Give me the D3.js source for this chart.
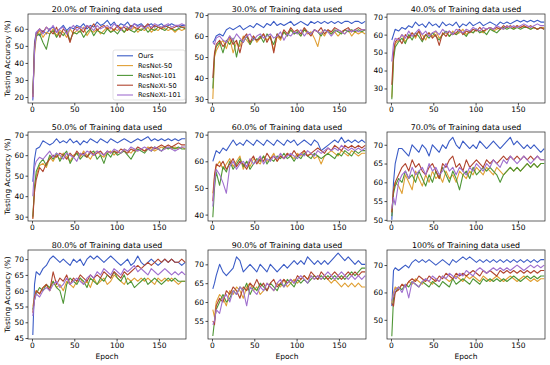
<!DOCTYPE html>
<html>
<head>
<meta charset="utf-8">
<script src="https://cdn.jsdelivr.net/npm/d3@7/dist/d3.min.js"></script>
<style>
  body { margin: 0; background: #fff; }
  text { font-family: "DejaVu Sans", sans-serif; fill: #000; }
</style>
</head>
<body>
<svg id="chart"></svg>
<script>
// epochs sampled from the curves
var epochs = [1,3,5,9,13,17,21,25,29,33,37,41,45,49,53,57,61,65,69,73,77,81,85,89,93,97,101,105,109,113,117,121,125,129,133,137,141,145,149,153,157,161,165,169,173,177,181];

var models = ["Ours", "ResNet-50", "ResNet-101", "ResNeXt-50", "ResNeXt-101"];
var titles = ["20.0% of Training data used", "30.0% of Training data used", "40.0% of Training data used",
              "50.0% of Training data used", "60.0% of Training data used", "70.0% of Training data used",
              "80.0% of Training data used", "90.0% of Training data used", "100% of Training data used"];
var xTicks = [0, 50, 100, 150];
var yDomains = [[16.5, 68.7], [28.1, 70.5], [21.9, 71.5], [27.9, 71.3], [37.6, 71], [49.7, 73.4], [44.7, 72.9], [50.2, 73.8], [43, 75.5]];
var yTicks = [[20,30,40,50,60], [30,40,50,60,70], [30,40,50,60,70], [30,40,50,60,70], [40,50,60,70],
              [50,55,60,65,70], [45,50,55,60,65,70], [55,60,65,70], [50,60,70]];

// one entry per panel: [Ours, ResNet-50, ResNet-101, ResNeXt-50, ResNeXt-101]
var acc20 = [
  [18,52,58,56,59,57,60,61,58,60,62,59,61,60,62,61,63,60,62,61,64,62,63,65,62,64,61,63,62,64,61,63,62,63,61,62,63,61,62,63,61,62,63,62,61,62,62],
  [20,45,55,59,55,58,57,60,56,59,58,55,60,57,59,58,61,56,59,58,60,57,59,61,58,60,59,61,58,60,59,61,58,60,59,61,58,60,59,61,60,59,60,58,60,59,60],
  [22,48,56,57,52,48,57,59,55,58,56,59,53,58,57,59,55,58,60,56,59,58,57,60,58,59,57,60,58,61,59,58,60,59,61,58,60,59,61,60,59,61,60,59,60,61,60],
  [20,50,57,60,58,61,59,57,61,55,60,58,52,59,61,60,58,62,60,63,59,61,62,60,61,59,62,60,61,59,62,61,60,62,61,63,60,62,61,60,62,61,60,61,62,61,61],
  [19,47,58,60,57,61,59,62,58,60,61,57,60,62,59,61,60,62,61,59,62,60,61,62,60,63,61,59,62,61,60,63,61,62,60,62,61,63,62,61,62,63,61,62,62,63,62]
];
var acc30 = [
  [57,58,60,61,60,63,64,63,64,65,63,64,65,64,66,65,64,66,65,67,65,66,65,66,67,65,66,67,66,65,67,66,67,66,67,66,67,66,67,66,67,67,66,67,67,66,67],
  [30,50,53,56,58,54,59,52,57,55,60,58,56,60,57,59,61,58,60,53,60,58,62,60,63,61,62,60,63,61,62,59,55,62,60,63,61,62,60,62,61,63,60,62,61,62,61],
  [35,51,55,57,52,58,56,59,50,58,57,60,56,59,58,60,57,61,59,56,61,59,62,60,63,61,62,60,63,62,61,63,62,60,63,62,61,63,62,61,63,62,63,62,63,62,63],
  [40,52,56,58,55,57,60,56,58,52,59,61,57,60,58,59,61,57,60,52,61,59,63,61,64,62,63,61,64,62,60,63,62,64,61,63,62,64,63,62,63,64,62,63,64,63,63],
  [57,56,59,60,58,57,60,58,61,59,57,60,61,58,60,61,59,60,61,59,60,62,58,61,60,62,61,63,60,62,61,63,62,61,63,62,60,62,63,62,61,63,62,63,62,63,63]
];
var acc40 = [
  [57,60,63,62,64,63,65,64,67,65,66,64,67,65,66,64,67,65,66,65,67,64,66,65,67,65,66,67,65,66,67,66,65,67,66,67,66,67,68,67,68,67,68,67,68,67,67],
  [25,48,55,57,60,56,59,61,58,62,60,57,61,59,62,58,60,61,59,62,60,61,63,60,62,61,63,62,61,63,64,62,63,64,63,65,64,63,65,64,65,64,63,64,63,64,64],
  [24,46,53,56,58,55,60,57,61,59,56,60,58,61,59,57,60,62,59,61,60,62,61,59,62,61,63,61,62,60,63,62,61,63,64,63,64,63,64,63,64,64,63,64,63,64,63],
  [32,50,56,58,55,60,58,61,59,62,57,60,61,58,60,54,61,59,62,60,61,63,60,62,61,63,62,64,62,63,64,63,64,63,65,64,65,64,65,64,65,64,65,64,63,64,63],
  [45,55,58,57,60,58,62,59,61,63,60,62,59,61,62,60,63,61,62,60,63,62,61,63,62,64,63,62,64,63,64,63,65,64,63,65,64,65,64,65,66,65,64,65,66,65,65]
];
var acc50 = [
  [47,58,63,64,67,66,65,66,68,66,67,66,68,66,67,65,67,66,68,67,66,68,67,66,68,67,66,67,68,67,66,67,68,67,68,69,67,68,67,68,67,68,67,68,67,68,68],
  [29,45,50,55,56,54,59,57,60,58,61,59,57,60,61,59,62,60,58,61,62,60,59,61,62,60,62,61,63,62,61,63,62,63,62,64,63,62,63,64,63,64,63,64,63,64,63],
  [30,44,52,56,58,55,60,58,61,57,60,62,56,59,61,58,60,59,61,62,58,60,56,61,59,62,60,61,62,60,58,61,63,62,61,63,62,64,63,62,64,63,64,63,64,63,63],
  [29,42,48,54,52,56,58,60,59,61,60,58,61,59,62,60,61,59,62,60,61,62,60,62,61,62,61,63,62,61,63,62,64,63,62,63,64,63,64,65,64,65,64,65,66,65,65],
  [40,54,57,59,58,60,62,59,61,60,58,61,60,59,57,61,60,62,61,60,62,61,60,62,61,63,62,61,63,62,64,63,62,63,64,63,62,64,63,62,63,64,63,62,63,64,64]
];
var acc60 = [
  [60,62,64,63,65,64,66,68,66,67,66,68,67,66,68,67,66,68,67,66,68,67,66,68,67,68,66,67,68,67,66,68,67,64,65,66,67,68,67,69,67,68,67,68,67,68,67],
  [48,54,58,60,57,59,61,58,60,62,57,60,58,61,60,59,62,60,61,63,60,62,61,63,62,61,63,62,64,62,63,61,62,59,62,63,64,63,62,64,63,62,64,63,62,63,63],
  [39,50,56,51,58,56,60,57,59,61,58,60,57,59,61,60,62,59,61,60,62,61,63,61,62,60,62,61,63,62,61,63,62,61,62,63,62,61,63,62,64,63,62,64,63,64,64],
  [45,55,59,58,60,57,59,61,58,60,59,57,60,62,59,61,60,63,61,62,60,62,61,63,62,64,62,63,64,62,63,64,65,64,63,65,64,66,65,64,66,65,66,65,66,65,66],
  [43,52,57,55,52,48,58,60,57,59,60,58,61,59,60,62,59,61,60,62,61,63,61,62,63,62,61,63,62,64,63,62,64,63,64,65,64,65,64,66,65,64,65,64,65,64,65]
];
var acc70 = [
  [50,60,65,69,69,68,67,70,69,68,70,69,67,70,69,68,70,69,71,72,70,69,71,70,69,70,69,71,70,69,70,71,70,69,70,71,72,70,71,70,69,70,69,70,69,68,69],
  [52,58,60,59,57,62,60,58,63,61,59,62,60,63,61,62,60,63,61,62,60,63,62,61,63,62,64,63,62,64,63,62,64,63,62,63,64,63,64,63,64,65,64,65,64,65,65],
  [51,57,59,61,60,63,61,62,60,63,61,59,62,60,63,61,64,62,60,63,61,58,62,63,61,64,62,63,64,63,64,63,62,60,62,63,64,63,64,63,64,65,64,65,64,65,65],
  [52,58,60,62,64,65,63,66,64,65,63,62,64,65,63,61,65,64,66,67,64,65,63,66,64,65,66,65,64,66,65,66,65,66,67,66,67,66,67,66,67,66,67,66,67,66,66],
  [53,56,54,60,62,63,61,64,62,63,64,62,65,63,64,62,63,65,63,64,62,64,63,62,64,63,65,64,63,65,64,66,65,64,66,65,67,66,65,66,67,66,65,66,67,66,66]
];
var acc80 = [
  [46,62,66,65,67,68,70,71,70,69,70,69,68,70,69,70,68,70,71,70,71,70,69,70,71,70,69,68,69,70,68,69,71,69,68,69,70,69,68,69,70,69,70,69,69,68,69],
  [55,58,60,59,61,62,60,63,61,62,60,63,62,61,63,64,62,63,61,64,62,63,64,62,63,65,64,63,62,64,63,64,63,64,63,64,63,62,64,63,64,63,64,63,62,63,63],
  [54,57,59,61,60,62,61,63,61,60,56,62,64,63,62,64,63,61,64,63,62,64,63,65,64,66,64,63,65,62,63,61,62,63,64,62,63,64,63,62,63,64,63,64,63,63,63],
  [53,58,60,59,61,62,60,66,62,64,63,65,62,64,63,65,64,63,65,64,65,64,66,65,64,66,65,64,66,65,66,67,68,67,68,69,68,69,70,69,70,69,70,69,69,70,69],
  [52,57,59,58,60,61,60,62,63,61,62,64,62,63,64,63,62,64,65,64,66,65,67,66,65,67,66,65,67,66,67,68,66,67,66,65,67,66,65,66,67,66,65,66,65,66,65]
];
var acc90 = [
  [63.5,65,67,70,68,67,68,69,72,71,68,69,70,69,68,70,69,68,70,69,68,69,70,69,70,71,70,71,70,72,71,70,71,70,71,70,71,72,73,72,71,72,71,70,71,70,70],
  [58,56,60,62,61,59,63,62,64,63,61,64,65,63,64,62,63,65,64,63,65,64,66,64,65,66,65,66,67,66,67,66,67,66,67,66,65,66,65,64,65,64,65,64,65,64,64],
  [51,55,58,60,62,60,61,63,62,64,63,65,62,64,63,65,64,63,65,64,63,65,64,66,65,64,66,65,66,65,66,67,66,67,66,67,66,67,66,67,66,67,68,67,68,69,69],
  [55,54,59,61,60,63,62,64,63,61,64,63,65,64,66,64,65,63,65,66,64,65,66,65,66,65,67,66,67,66,68,67,66,68,67,66,67,68,67,66,67,68,67,68,67,68,68],
  [54,55,58,57,61,62,60,63,62,64,63,59,64,63,62,64,63,65,64,63,65,66,64,65,66,65,66,67,66,65,67,66,67,66,67,68,67,66,67,68,67,66,67,66,67,66,67]
];
var acc100 = [
  [55,68,69,68,69,70,69,71,72,71,72,71,72,71,70,71,72,71,70,72,71,72,73,72,73,72,71,72,71,72,71,72,71,72,71,72,71,72,71,72,71,72,71,72,71,72,72],
  [56,60,62,61,63,62,64,63,65,64,63,65,64,63,65,64,66,65,64,65,66,65,64,66,65,66,65,64,66,65,64,65,66,65,64,65,66,65,64,65,66,65,64,65,64,65,65],
  [44,58,60,62,61,63,62,64,63,62,64,63,62,64,63,62,64,63,62,65,63,64,65,64,63,65,64,63,65,64,65,64,65,64,65,64,65,66,65,64,65,66,65,66,65,66,66],
  [56,55,60,61,63,62,64,65,64,66,65,64,66,65,64,66,65,67,66,65,67,66,67,66,67,68,67,66,68,67,68,67,66,68,67,68,67,68,67,68,67,68,67,68,67,68,68],
  [57,59,61,62,60,63,58,64,63,62,64,65,64,66,65,64,66,65,67,66,65,67,66,68,67,66,68,69,68,67,68,69,68,69,68,69,68,69,70,69,68,69,70,69,70,69,70]
];
var panels = [acc20, acc30, acc40, acc50, acc60, acc70, acc80, acc90, acc100];

var colors = ["#3b5cc6", "#e0a035", "#4f9636", "#b0452f", "#a070cf"];

var width = 550, height = 365;
var colLeft = [28, 208, 387], panelW = 158;
var rowTop = [14, 132, 250], panelH = 89;

var svg = d3.select("#chart")
  .attr("width", width)
  .attr("height", height);

var x = d3.scaleLinear().domain([-4.7, 182]).range([0, panelW]);

panels.forEach(function(series, p) {
  var col = p % 3, row = Math.floor(p / 3);
  var y = d3.scaleLinear().domain(yDomains[p]).range([panelH, 0]);

  var g = svg.append("g")
    .attr("transform", "translate(" + colLeft[col] + "," + rowTop[row] + ")");

  g.append("clipPath").attr("id", "clip" + p)
    .append("rect").attr("width", panelW).attr("height", panelH);

  var line = d3.line()
    .x(function(d, i) { return x(epochs[i]); })
    .y(function(d) { return y(d); });

  g.append("g").attr("clip-path", "url(#clip" + p + ")")
    .selectAll("path").data(series).enter()
    .append("path")
    .attr("d", line)
    .attr("fill", "none")
    .attr("stroke", function(d, i) { return colors[i]; })
    .attr("stroke-width", 1.1)
    .attr("stroke-linejoin", "round");

  var xAxis = d3.axisBottom(x).tickValues(xTicks).tickSize(2.5).tickPadding(1.5);
  var yAxis = d3.axisLeft(y).tickValues(yTicks[p]).tickSize(2.5).tickPadding(1.5);

  g.append("g")
    .attr("transform", "translate(0," + panelH + ")")
    .call(xAxis)
    .call(function(a) { a.select(".domain").remove(); })
    .selectAll("text").style("font-size", "7.5px");
  g.append("g")
    .call(yAxis)
    .call(function(a) { a.select(".domain").remove(); })
    .selectAll("text").style("font-size", "7.5px");
  g.selectAll(".tick line").attr("stroke-width", 0.7);

  g.append("rect")
    .attr("width", panelW)
    .attr("height", panelH)
    .attr("fill", "none")
    .attr("stroke", "#222")
    .attr("stroke-width", 0.7);

  g.append("text")
    .attr("x", panelW / 2)
    .attr("y", -2.5)
    .attr("text-anchor", "middle")
    .style("font-size", "7.9px")
    .text(titles[p]);

  if (col == 0) {
    g.append("text")
      .attr("transform", "translate(-18.5," + (panelH / 2) + ") rotate(-90)")
      .attr("text-anchor", "middle")
      .style("font-size", "7.3px")
      .text("Testing Accuracy (%)");
  }
  if (row == 2) {
    g.append("text")
      .attr("x", panelW / 2)
      .attr("y", panelH + 19.5)
      .attr("text-anchor", "middle")
      .style("font-size", "7.5px")
      .text("Epoch");
  }

  if (p == 0) {
    var legend = g.append("g").attr("transform", "translate(85,36)");
    legend.append("rect")
      .attr("width", 72)
      .attr("height", 50)
      .attr("rx", 2)
      .attr("fill", "#fff")
      .attr("fill-opacity", 0.8)
      .attr("stroke", "#d0d0d0")
      .attr("stroke-width", 0.6);
    var item = legend.selectAll(".item").data(models).enter()
      .append("g")
      .attr("class", "item")
      .attr("transform", function(d, i) { return "translate(0," + (5.8 + i * 9.8) + ")"; });
    item.append("line")
      .attr("x1", 4).attr("x2", 20)
      .attr("stroke", function(d, i) { return colors[i]; })
      .attr("stroke-width", 1.1);
    item.append("text")
      .attr("x", 25)
      .attr("dy", "0.35em")
      .style("font-size", "6.6px")
      .text(function(d) { return d; });
  }
});
</script>
</body>
</html>
